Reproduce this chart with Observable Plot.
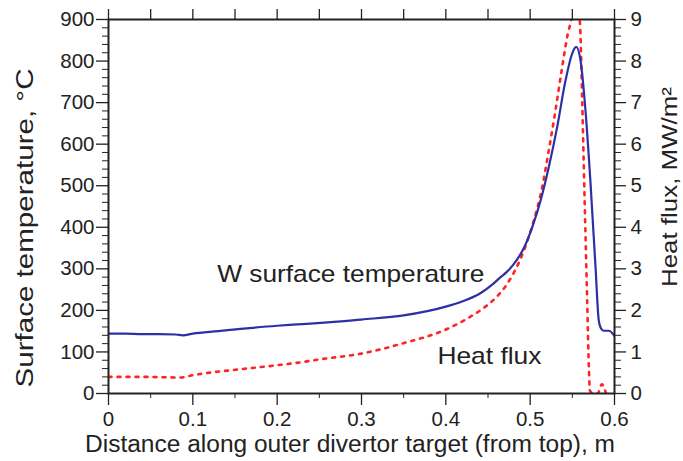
<!DOCTYPE html>
<html>
<head>
<meta charset="utf-8">
<script src="https://cdn.jsdelivr.net/npm/d3@7"></script>
<script src="https://cdn.jsdelivr.net/npm/@observablehq/plot@0.6"></script>
<style>
  html, body { margin: 0; padding: 0; background: #fff; }
  svg { display: block; }
</style>
</head>
<body>
<div id="chart"></div>
<script>
// ---- Data ----
// W surface temperature, °C (left axis)
const tempX = [0, 0.02, 0.04, 0.06, 0.08, 0.088, 0.1, 0.13, 0.16, 0.2, 0.23, 0.26, 0.3, 0.35, 0.4, 0.42, 0.44, 0.455, 0.465, 0.472, 0.48, 0.4925, 0.5024, 0.5123, 0.5221, 0.532, 0.5419, 0.5498, 0.5546, 0.5597, 0.5656, 0.5716, 0.5775, 0.5814, 0.5845, 0.5874, 0.5933, 0.6];
const tempC = [144, 144, 143, 143, 142, 140, 144, 150, 156, 163, 167, 171, 178, 188, 209, 222, 240, 262, 280, 292, 310, 350, 400, 464, 545, 641, 753, 818, 834, 802, 681, 505, 304, 175, 155, 151, 151, 138];

// Heat flux, MW/m² (right axis)
const fluxX = [0, 0.04, 0.085, 0.1, 0.109, 0.15, 0.2, 0.2277, 0.25, 0.3, 0.346, 0.4056, 0.425, 0.445, 0.46, 0.4728, 0.4925, 0.5043, 0.5143, 0.5221, 0.53, 0.538, 0.5447, 0.5487, 0.5535, 0.5589, 0.5617, 0.5636, 0.5656, 0.5676, 0.5696, 0.5708, 0.575, 0.58, 0.585, 0.59];
const fluxMW = [0.40, 0.40, 0.385, 0.44, 0.47, 0.57, 0.68, 0.75, 0.82, 0.96, 1.19, 1.59, 1.80, 2.06, 2.32, 2.64, 3.44, 4.16, 4.97, 5.85, 6.81, 7.86, 8.66, 8.98, 9.5, 8.94, 7.05, 5.45, 3.84, 2.23, 0.63, 0.07, 0, 0, 0.22, 0];

// Tick values
const xTicks = [0, 0.1, 0.2, 0.3, 0.4, 0.5, 0.6];
const xTickLabels = ["0", "0.1", "0.2", "0.3", "0.4", "0.5", "0.6"];
const xMinorTicks = [0.05, 0.15, 0.25, 0.35, 0.45, 0.55];
const xTopTicks = [0, 0.05, 0.1, 0.15, 0.2, 0.25, 0.3, 0.35, 0.4, 0.45, 0.5, 0.55, 0.6];
const tempTicks = [0, 100, 200, 300, 400, 500, 600, 700, 800, 900];
const fluxTicks = [0, 1, 2, 3, 4, 5, 6, 7, 8, 9];

// Labels
const xTitle = "Distance along outer divertor target (from top), m";
const yLeftTitle = "Surface temperature, °C";
const yRightTitle = "Heat flux, MW/m²";
const annotLabels = ["W surface temperature", "Heat flux"];
const annotX = [0.129, 0.39];
const annotY = [287, 89];

// right axis relation: 1 MW/m² corresponds to 100 °C on the shared vertical scale
const fluxToTemp = 100;

const tempData = tempX.map((x, i) => ({x, y: tempC[i]}));
const fluxData = fluxX.map((x, i) => ({x, y: fluxMW[i] * fluxToTemp}));
const annots = annotLabels.map((label, i) => ({label, x: annotX[i], y: annotY[i]}));

const tempMinor = d3.range(0, 901, 20).filter(d => d % 100 !== 0);
const fluxMinor = d3.range(0, 9.01, 0.2).map(d => Math.round(d * 10) / 10).filter(d => Math.abs(d - Math.round(d)) > 1e-6).map(d => d * fluxToTemp);

const ink = "#222";
const font = "'Liberation Sans', Arial, Helvetica, sans-serif";

const chart = Plot.plot({
  width: 683,
  height: 461,
  marginLeft: 108,
  marginRight: 69,
  marginTop: 19,
  marginBottom: 68,
  x: {domain: [0, 0.6]},
  y: {domain: [0, 900]},
  style: {fontFamily: font, color: ink, background: "#fff"},
  marks: [
    Plot.line(fluxData, {x: "x", y: "y", stroke: "#ff2424", strokeWidth: 2.6, strokeDasharray: "3,6", curve: "monotone-x", clip: true}),
    Plot.line(tempData, {x: "x", y: "y", stroke: "#2c30a6", strokeWidth: 2.2, curve: "monotone-x", clip: true}),
    Plot.frame({stroke: ink, strokeWidth: 2}),
    Plot.axisY({anchor: "left", ticks: tempTicks, tickSize: 12, tickPadding: 2, fontSize: 20.5, label: null, strokeWidth: 1.3}),
    Plot.axisY({anchor: "left", ticks: tempMinor, tickSize: 6, tickFormat: () => "", label: null, strokeWidth: 1}),
    Plot.axisY({anchor: "right", ticks: fluxTicks.map(d => d * fluxToTemp), tickFormat: d => String(fluxTicks[Math.round(d / fluxToTemp)]), tickSize: 11, tickPadding: 5, fontSize: 20.5, label: null, strokeWidth: 1.3}),
    Plot.axisY({anchor: "right", ticks: fluxMinor, tickSize: 6, tickFormat: () => "", label: null, strokeWidth: 1}),
    Plot.axisX({anchor: "bottom", ticks: xTicks, tickFormat: d => xTickLabels[xTicks.indexOf(d)], tickSize: 12, tickPadding: 6, fontSize: 20.5, label: null, strokeWidth: 1.3}),
    Plot.axisX({anchor: "bottom", ticks: xMinorTicks, tickSize: 5, tickFormat: () => "", label: null, strokeWidth: 1}),
    Plot.axisX({anchor: "top", ticks: xTopTicks, tickSize: 11, tickFormat: () => "", label: null, strokeWidth: 1.3}),
    Plot.text(annots, {x: "x", y: "y", text: "label", textAnchor: "start", lineAnchor: "middle", fontSize: 24, fill: ink})
  ]
});

const svg = d3.select(chart);
svg.selectAll("text").filter(function () { return this.textContent === ""; }).remove();

// stretch annotation labels to the reference width
const annotLengths = {"W surface temperature": 267, "Heat flux": 104};
svg.selectAll("text").each(function () {
  const t = this.textContent;
  if (annotLengths[t]) {
    d3.select(this).attr("textLength", annotLengths[t]).attr("lengthAdjust", "spacingAndGlyphs");
  }
});

// axis titles
svg.append("text")
  .attr("x", 350).attr("y", 452)
  .attr("text-anchor", "middle")
  .attr("font-size", 23)
  .attr("fill", ink)
  .attr("textLength", 530).attr("lengthAdjust", "spacingAndGlyphs")
  .text(xTitle);

svg.append("text")
  .attr("transform", "translate(33,228) rotate(-90)")
  .attr("text-anchor", "middle")
  .attr("font-size", 23)
  .attr("fill", ink)
  .attr("textLength", 319).attr("lengthAdjust", "spacingAndGlyphs")
  .text(yLeftTitle);

svg.append("text")
  .attr("transform", "translate(677,187) rotate(-90)")
  .attr("text-anchor", "middle")
  .attr("font-size", 22)
  .attr("fill", ink)
  .attr("textLength", 200).attr("lengthAdjust", "spacingAndGlyphs")
  .text(yRightTitle);

document.getElementById("chart").appendChild(chart);
</script>
</body>
</html>
